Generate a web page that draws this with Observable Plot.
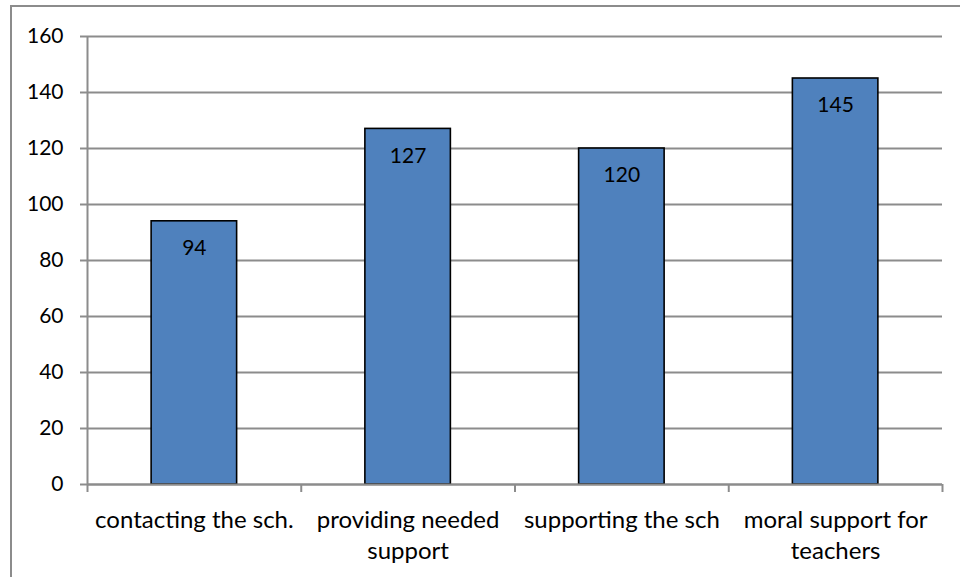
<!DOCTYPE html>
<html>
<head>
<meta charset="utf-8">
<script src="https://cdn.jsdelivr.net/npm/d3@7"></script>
<script src="https://cdn.jsdelivr.net/npm/@observablehq/plot@0.6"></script>
<style>
  html, body { margin: 0; padding: 0; background: #fff; }
  #wrap { position: relative; width: 960px; height: 577px; overflow: hidden; }
  #box { position: absolute; left: 10px; top: 5px; width: 1000px; height: 700px;
         border-left: 2px solid #8c8c8c; border-top: 2px solid #8c8c8c; box-sizing: border-box; }
  #chart { position: absolute; left: 0; top: 0; }
</style>
</head>
<body>
<div id="wrap"><div id="box"></div><div id="chart"></div></div>
<script>
// Responses per type of parental involvement
const categories = ["contacting the sch.", "providing needed\nsupport", "supporting the sch", "moral support for\nteachers"];
const counts = [94, 127, 120, 145];
const yTicks = [0, 20, 40, 60, 80, 100, 120, 140, 160];

const rows = categories.map((c, i) => ({i, category: c, value: counts[i]}));
const boundaries = d3.range(categories.length + 1);

const grey = "#8c8c8c";
const font = "Lato, 'Liberation Sans', sans-serif";

const chart = Plot.plot({
  width: 960,
  height: 577,
  marginLeft: 87,
  marginRight: 18,
  marginTop: 36,
  marginBottom: 93,
  style: {fontFamily: font, background: "transparent", overflow: "visible"},
  x: {type: "linear", domain: [0, categories.length], axis: null},
  y: {domain: [0, 160], axis: null},
  marks: [
    // horizontal gridlines
    Plot.ruleY(yTicks, {stroke: grey, strokeWidth: 2}),
    // y axis ticks and labels
    Plot.axisY({ticks: yTicks, tickSize: 7, tickPadding: 17, stroke: grey, strokeWidth: 2,
                fontSize: 21, color: "#000", tickFormat: d => d, label: null}),
    // vertical axis line
    Plot.ruleX([0], {stroke: grey, strokeWidth: 2}),
    // category boundary ticks under the baseline
    Plot.axisX({ticks: boundaries, tickSize: 8, stroke: grey, strokeWidth: 2, tickFormat: () => "", label: null}),
    // bars
    Plot.rectY(rows, {x1: d => d.i + 0.3, x2: d => d.i + 0.7, y: "value",
                      fill: "#4F81BD", stroke: "#000", strokeWidth: 1.6}),
    // baseline
    Plot.ruleY([0], {stroke: grey, strokeWidth: 2}),
    // value labels inside the bars
    Plot.text(rows, {x: d => d.i + 0.5, y: "value", text: d => String(d.value),
                     dy: 27, fontSize: 21, fill: "#000"}),
    // category labels
    Plot.text(rows, {x: d => d.i + 0.5, frameAnchor: "bottom", text: "category",
                     lineAnchor: "top", dy: 21, fontSize: 24, lineHeight: 1.3, fill: "#000"})
  ]
});

document.getElementById("chart").appendChild(chart);
</script>
</body>
</html>
